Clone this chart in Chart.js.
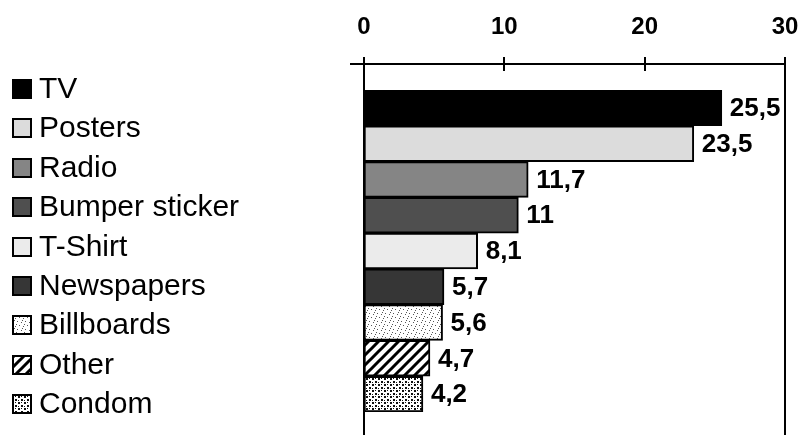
<!DOCTYPE html>
<html>
<head>
<meta charset="utf-8">
<script src="https://cdn.jsdelivr.net/npm/chart.js@4.4.1/dist/chart.umd.min.js"></script>
<style>
  html, body { margin: 0; padding: 0; background: #fff; overflow: hidden; }
  #wrap { width: 801px; height: 435px; position: relative; }
</style>
</head>
<body>
<div id="wrap"><canvas id="c" width="801" height="435"></canvas></div>
<script>
// Advertising channels and their share
const categories = ['TV', 'Posters', 'Radio', 'Bumper sticker', 'T-Shirt', 'Newspapers', 'Billboards', 'Other', 'Condom'];
const values = [25.5, 23.5, 11.7, 11, 8.1, 5.7, 5.6, 4.7, 4.2];
const xTicks = [0, 10, 20, 30];

// Fill patterns for the textured bars
function makePattern(size, draw) {
  const c = document.createElement('canvas');
  c.width = size; c.height = size;
  const g = c.getContext('2d');
  g.fillStyle = '#ffffff';
  g.fillRect(0, 0, size, size);
  draw(g);
  return g.createPattern(c, 'repeat');
}
const ctx = document.getElementById('c').getContext('2d');

const sparseDots = makePattern(8, g => {
  g.fillStyle = '#555555';
  [[1,1],[5,2],[3,5],[7,6],[0,4],[6,0]].forEach(([x,y]) => g.fillRect(x, y, 1, 1));
});
const hatch = makePattern(10, g => {
  g.strokeStyle = '#000000';
  g.lineWidth = 3;
  g.beginPath();
  g.moveTo(-2, 12); g.lineTo(12, -2);
  g.moveTo(-7, 7); g.lineTo(7, -7);
  g.moveTo(3, 17); g.lineTo(17, 3);
  g.stroke();
});
const denseDots = makePattern(6, g => {
  g.fillStyle = '#111111';
  g.fillRect(0, 0, 2, 2);
  g.fillRect(3, 3, 2, 2);
  g.fillRect(3, 0, 1, 1);
  g.fillRect(0, 4, 1, 1);
});

const fills = ['#000000', '#dcdcdc', '#858585', '#4f4f4f', '#ebebeb', '#363636', sparseDots, hatch, denseDots];

// Top axis line with crossing ticks, plus the frame's vertical sides
const axisFrame = {
  id: 'axisFrame',
  afterDraw(chart) {
    const { ctx, scales: { x } } = chart;
    const axisY = 64;
    const x0 = Math.round(x.getPixelForValue(xTicks[0]));
    const x1 = Math.round(x.getPixelForValue(xTicks[xTicks.length - 1]));
    ctx.save();
    ctx.strokeStyle = '#000';
    ctx.lineWidth = 2;
    ctx.beginPath();
    ctx.moveTo(350, axisY); ctx.lineTo(x1, axisY);
    xTicks.forEach(t => {
      const px = Math.round(x.getPixelForValue(t));
      ctx.moveTo(px, axisY - 7); ctx.lineTo(px, axisY + 7);
    });
    ctx.moveTo(x0, axisY); ctx.lineTo(x0, chart.height);
    ctx.moveTo(x1, axisY); ctx.lineTo(x1, chart.height);
    ctx.stroke();
    ctx.restore();
  }
};

// Value labels at the end of each bar
const valueLabels = {
  id: 'valueLabels',
  afterDatasetsDraw(chart) {
    const { ctx } = chart;
    const meta = chart.getDatasetMeta(0);
    ctx.save();
    ctx.fillStyle = '#000';
    ctx.font = 'bold 26px "Liberation Sans", Arial, sans-serif';
    ctx.textAlign = 'left';
    ctx.textBaseline = 'middle';
    meta.data.forEach((bar, i) => {
      const v = chart.data.datasets[0].data[i];
      ctx.fillText(String(v).replace('.', ','), bar.x + 8, bar.y + 1);
    });
    ctx.restore();
  }
};

// Category key on the left
const sideLegend = {
  id: 'sideLegend',
  afterDraw(chart) {
    const { ctx } = chart;
    const ds = chart.data.datasets[0];
    const top = 89, step = 39.4, box = 18;
    ctx.save();
    ctx.font = '30px "Liberation Sans", Arial, sans-serif';
    ctx.textAlign = 'left';
    ctx.textBaseline = 'middle';
    chart.data.labels.forEach((lab, i) => {
      const cy = Math.round(top + i * step);
      ctx.fillStyle = ds.backgroundColor[i];
      ctx.fillRect(13, cy - box / 2, box, box);
      ctx.strokeStyle = '#000';
      ctx.lineWidth = 2;
      ctx.strokeRect(13, cy - box / 2, box, box);
      ctx.fillStyle = '#000';
      ctx.fillText(lab, 39, cy + 1);
    });
    ctx.restore();
  }
};

new Chart(ctx, {
  type: 'bar',
  data: {
    labels: categories,
    datasets: [{
      data: values,
      backgroundColor: fills,
      borderColor: '#000',
      borderWidth: 2,
      borderSkipped: false,
      barPercentage: 1,
      categoryPercentage: 1
    }]
  },
  options: {
    indexAxis: 'y',
    responsive: false,
    animation: false,
    layout: { padding: { left: 364, right: 16, top: 12, bottom: 23 } },
    plugins: { legend: { display: false }, tooltip: { enabled: false } },
    scales: {
      x: {
        position: 'top',
        min: 0,
        max: 30,
        afterBuildTicks(scale) { scale.ticks = xTicks.map(v => ({ value: v })); },
        afterFit(scale) {
          scale.height = 78;
          // labels sit well above the plot, so no side padding is needed for them
          scale.paddingLeft = 0;
          scale.paddingRight = 0;
        },
        grid: { display: false, drawTicks: false },
        border: { display: false },
        ticks: {
          padding: 48,
          color: '#000',
          font: { family: '"Liberation Sans", Arial, sans-serif', size: 24, weight: 'bold' }
        }
      },
      y: { display: false }
    }
  },
  plugins: [axisFrame, valueLabels, sideLegend]
});
</script>
</body>
</html>
